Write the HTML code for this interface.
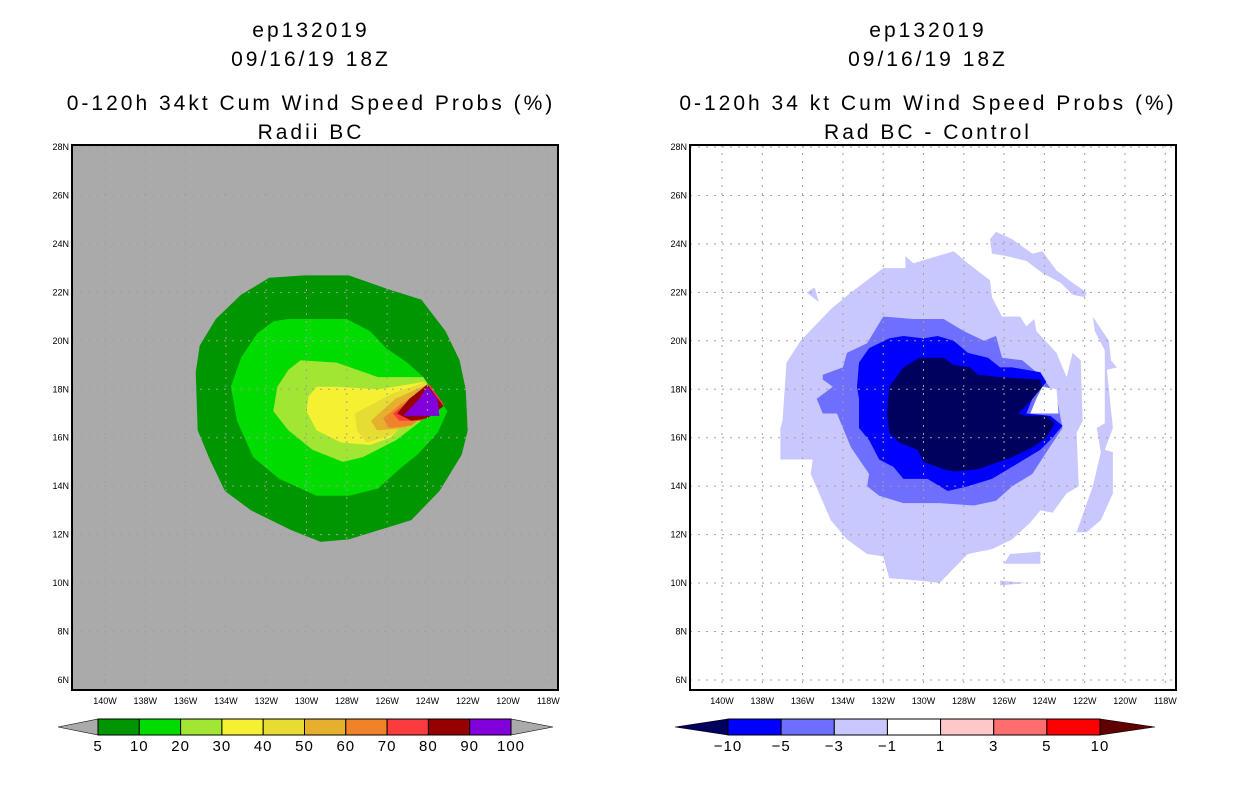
<!DOCTYPE html>
<html><head><meta charset="utf-8"><style>
body{margin:0;background:#fff;width:1236px;height:800px;overflow:hidden}
svg{display:block}
text{font-family:"Liberation Sans",sans-serif}
</style></head><body>
<svg id="s" width="1236" height="800" xmlns="http://www.w3.org/2000/svg">
<g font-size="21" letter-spacing="3" text-anchor="middle" fill="#000">
<text x="311" y="37">ep132019</text>
<text x="311" y="66">09/16/19 18Z</text>
<text x="311" y="110">0-120h 34kt Cum Wind Speed Probs (%)</text>
<text x="311" y="139">Radii BC</text>
</g>
<g font-size="21" letter-spacing="3" text-anchor="middle" fill="#000">
<text x="928" y="37">ep132019</text>
<text x="928" y="66">09/16/19 18Z</text>
<text x="928" y="110">0-120h 34 kt Cum Wind Speed Probs (%)</text>
<text x="928" y="139">Rad BC - Control</text>
</g>
<g id="L"></g>
<g id="R"></g>
<g id="CB"></g>
</svg>
<script>
const NS="http://www.w3.org/2000/svg";
const lonTicks=[140,138,136,134,132,130,128,126,124,122,120,118];
const latTicks=[28,26,24,22,20,18,16,14,12,10,8,6];
const leftLevels=["5","10","20","30","40","50","60","70","80","90","100"];
const leftColors=["#009600","#00dc00","#a0e632","#f5f032","#e6dc32","#e6af2d","#f08228","#fa3c3c","#960000","#8200dc"];
const rightLevels=["-10","-5","-3","-1","1","3","5","10"];
const rightColors=["#0000ff","#6e6eff","#c8c8ff","#ffffff","#ffc8c8","#ff6e6e","#ff0000"];
// left contours [lonW, lat]
const p5=[[135.5,18.7],[135.3,19.8],[134.5,20.9],[133.25,21.9],[131.85,22.6],[130.1,22.7],[127.9,22.7],[125.85,22.1],[124.3,21.7],[123.1,20.4],[122.4,19.2],[122.1,18.0],[122.0,16.3],[122.3,15.3],[123.4,13.8],[124.8,12.6],[126.35,12.2],[127.9,11.8],[129.3,11.7],[130.8,12.2],[132.75,13.0],[134.05,13.8],[134.8,15.1],[135.4,16.3]];
const p10=[[130.9,20.9],[128.0,20.9],[126.85,20.4],[126.05,19.7],[125.0,19.1],[124.2,18.5],[123.0,17.1],[123.5,16.2],[124.5,15.3],[125.25,14.8],[126.45,13.9],[127.9,13.6],[129.5,13.6],[131.35,14.3],[132.65,15.2],[133.45,16.7],[133.75,18.1],[133.25,19.3],[132.45,20.3],[131.65,20.8]];
const p20=[[130.3,19.2],[128.5,19.1],[126.45,18.5],[124.2,18.5],[123.9,18.1],[124.3,16.7],[125.55,15.9],[127.2,15.2],[128.2,15.0],[129.7,15.5],[130.9,16.3],[131.65,17.1],[131.45,18.1],[130.9,18.8]];
const p30=[[129.5,18.1],[128.5,18.1],[126.45,18.0],[124.2,18.3],[124.3,17.3],[125.85,16.0],[126.85,15.7],[128.3,15.8],[129.5,16.3],[130.0,17.1],[129.9,17.7]];
const p40=[[127.6,17.0],[125.8,17.8],[124.1,18.3],[123.8,17.6],[124.3,17.1],[125.8,16.1],[127.0,15.8],[127.5,16.3]];
const p50=[[126.8,16.7],[125.6,17.6],[124.0,18.2],[123.6,17.4],[125.1,16.4],[126.5,16.3]];
const p60=[[126.2,16.8],[125.3,17.4],[124.0,18.1],[123.4,17.4],[124.8,16.5],[125.9,16.4]];
const p70=[[125.7,17.0],[124.8,17.6],[123.9,18.2],[123.2,17.4],[124.3,16.7],[125.4,16.7]];
const p80=[[125.5,17.0],[124.9,17.6],[124.0,18.2],[123.2,17.3],[124.0,16.8],[124.8,16.7]];
const p90=[[125.2,16.9],[124.4,17.6],[124.0,18.1],[123.5,17.6],[123.4,16.9]];
// right contours
const rLight=[[137.0,16.7],[136.8,19.1],[136.1,20.0],[134.6,21.3],[133.6,22.0],[132.0,23.0],[130.9,23.0],[130.9,23.5],[130.5,23.2],[128.5,23.7],[127.8,23.2],[126.7,22.5],[126.6,21.8],[126.1,21.0],[125.2,21.0],[124.9,20.6],[124.5,20.9],[124.4,20.4],[123.4,19.5],[122.9,18.5],[122.6,19.5],[122.2,19.2],[122.1,16.7],[122.4,16.2],[122.3,14.0],[122.9,13.7],[123.6,12.9],[124.2,13.0],[124.7,12.5],[125.6,11.8],[126.6,11.4],[127.8,11.2],[129.2,10.0],[130.2,10.1],[131.7,10.2],[132.0,11.1],[132.8,11.2],[133.8,11.8],[134.6,12.6],[135.6,14.5],[135.5,15.1],[137.1,15.1],[137.1,16.4]];
const rLightNE=[[126.7,24.2],[126.4,24.5],[125.6,24.2],[124.6,23.6],[124.1,23.7],[123.4,22.9],[122.6,22.4],[121.9,22.0],[122.0,21.8],[122.6,21.9],[123.2,22.4],[124.1,22.8],[124.9,23.3],[125.9,23.5],[126.6,23.6]];
const rLightE=[[121.6,21.0],[120.8,20.0],[120.7,19.2],[120.4,18.9],[120.9,18.8],[120.6,16.4],[121.0,15.5],[120.6,15.4],[120.6,13.7],[121.2,12.6],[121.9,12.1],[122.4,12.1],[121.6,14.0],[121.2,15.4],[121.4,16.4],[121.0,16.6],[121.0,19.6],[121.5,20.4]];
const rLightS1=[[125.7,11.2],[124.2,11.3],[124.2,10.8],[126.0,10.8]];
const rLightS2=[[126.2,10.1],[124.9,10.0],[126.2,9.9]];
const rLightNW=[[135.8,22.0],[135.4,22.2],[135.2,21.6]];
const rMed=[[135.0,18.6],[134.0,18.9],[133.8,19.5],[132.8,19.9],[132.0,21.0],[130.5,20.9],[129.0,20.9],[128.0,20.4],[127.0,20.0],[126.4,20.2],[126.1,19.3],[125.1,19.2],[124.1,18.5],[123.4,17.7],[123.1,16.4],[123.9,15.4],[124.6,14.5],[125.6,14.0],[126.4,13.4],[127.5,13.2],[129.2,13.3],[131.0,13.3],[132.2,13.6],[132.8,14.0],[132.7,14.5],[133.6,15.6],[134.3,17.0],[135.0,17.0],[135.3,17.6],[134.5,18.1],[135.0,18.4]];
const rBlue=[[133.2,19.1],[132.7,19.7],[131.7,20.1],[131.0,20.2],[130.0,20.1],[129.3,20.2],[128.5,20.0],[127.8,19.5],[126.8,19.3],[126.2,18.9],[125.6,18.9],[124.2,18.7],[123.9,18.3],[124.6,17.6],[124.9,17.0],[123.7,16.9],[123.1,16.5],[123.6,16.0],[124.2,15.5],[125.6,14.8],[126.6,14.3],[127.8,14.0],[128.8,13.8],[129.8,14.3],[131.0,14.3],[131.5,14.8],[132.2,15.1],[132.7,15.9],[133.2,16.4],[133.2,17.6],[133.3,18.1]];
const rNotch=[[124.1,18.1],[123.4,18.0],[123.3,17.0],[124.7,17.0],[124.4,17.6]];
const rNavy=[[131.7,18.1],[131.0,18.9],[130.2,19.3],[129.0,19.3],[128.5,19.0],[127.7,18.9],[127.3,18.6],[126.2,18.5],[124.2,18.4],[124.1,18.1],[124.6,17.6],[125.3,17.0],[124.9,16.9],[123.9,16.9],[123.5,16.6],[123.9,16.0],[124.6,15.6],[125.6,15.2],[126.6,14.9],[127.3,14.7],[128.5,14.6],[129.0,14.7],[130.0,15.0],[130.3,15.5],[131.2,15.8],[131.7,16.2],[131.8,17.0]];

function mk(tag,attrs,parent){const e=document.createElementNS(NS,tag);for(const k in attrs)e.setAttribute(k,attrs[k]);parent.appendChild(e);return e;}
function yLat(lat){return 147+(28-lat)*24.225;}
function xL(lon){return 105+(140-lon)*20.15;}
function xR(lon){return 722+(140-lon)*20.15;}

function panel(g,x0,bg){
  const r=mk('rect',{x:x0,y:145,width:486,height:545,fill:bg},g);
  
  
}
function poly(g,pts,xf,fill,name){
  const p=mk('polygon',{points:pts.map(q=>xf(q[0]).toFixed(1)+','+yLat(q[1]).toFixed(1)).join(' '),fill:fill},g);
  
  
}
function gridAxes(g,x0,xf){
  lonTicks.forEach(l=>{const x=xf(l);
    const ln=mk('line',{x1:x,y1:145,x2:x,y2:690,stroke:'#a0a0a0','stroke-width':1,'stroke-dasharray':'2,6'},g);
    
    
    const t=mk('text',{x:x,y:704,'font-size':9,'text-anchor':'middle'},g);t.textContent=l+'W';
    
    
  });
  latTicks.forEach(l=>{const y=yLat(l);
    const ln=mk('line',{x1:x0,y1:y,x2:x0+486,y2:y,stroke:'#a0a0a0','stroke-width':1,'stroke-dasharray':'2,6'},g);
    
    
    const t=mk('text',{x:x0-3,y:y+3,'font-size':9,'text-anchor':'end'},g);t.textContent=l+'N';
    
    
  });
  const f=mk('rect',{x:x0,y:145,width:486,height:545,fill:'none',stroke:'#000','stroke-width':2},g);
  
  
}
const L=document.getElementById('L'),R=document.getElementById('R');
panel(L,72,'#aaaaaa');
[p5,p10,p20,p30,p40,p50,p60,p70,p80,p90].forEach((p,i)=>poly(L,p,xL,leftColors[i],'contour-'+leftLevels[i]+'pct'));
gridAxes(L,72,xL);
panel(R,690,'#ffffff');
[rLight,rLightNE,rLightE,rLightS1,rLightS2,rLightNW].forEach(p=>poly(R,p,xR,'#c8c8ff','contour-minus1'));
poly(R,rMed,xR,'#6e6eff','contour-minus3');
poly(R,rBlue,xR,'#0000ff','contour-minus5');
poly(R,rNotch,xR,'#ffffff','contour-zero-notch');
poly(R,rNavy,xR,'#00005f','contour-minus10');
gridAxes(R,690,xR);

const CB=document.getElementById('CB');
function colorbar(bx0,bx1,lx,rx,cols,labels,lcol,rcol,name){
  const g=mk('g',{},CB);
  
  
  const y0=719,y1=735,ym=727;
  const a=mk('polygon',{points:`${lx},${ym} ${bx0},${y0} ${bx0},${y1}`,fill:lcol,stroke:'#000','stroke-width':0.6},g);
  
  
  const b=mk('polygon',{points:`${rx},${ym} ${bx1},${y0} ${bx1},${y1}`,fill:rcol,stroke:'#000','stroke-width':0.6},g);
  
  
  const w=(bx1-bx0)/cols.length;
  cols.forEach((c,i)=>{
    const r=mk('rect',{x:bx0+i*w,y:y0,width:w,height:y1-y0,fill:c,stroke:'#000','stroke-width':1},g);
    
    
  });
  labels.forEach((l,i)=>{
    const t=mk('text',{x:bx0+i*w,y:751,'font-size':15,'letter-spacing':1,'text-anchor':'middle'},g);t.textContent=l.replace('-','\u2212');
    
    
  });
}
colorbar(98,511,58,553,leftColors,leftLevels,'#aaaaaa','#aaaaaa','left-colorbar');
colorbar(728,1100,675,1155,rightColors,rightLevels,'#00005f','#600000','right-colorbar');
</script>
</body></html>
